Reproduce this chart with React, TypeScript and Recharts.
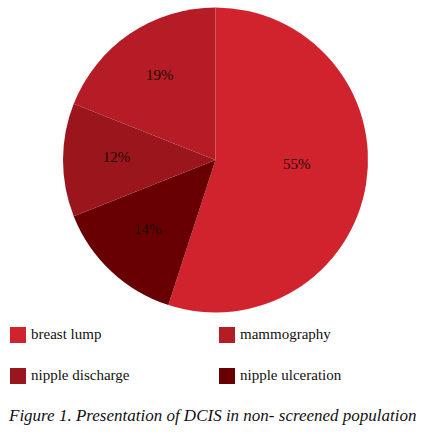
import React from "react";
import { PieChart, Pie, Cell, Legend } from "recharts";

const categories = ["breast lump", "nipple ulceration", "nipple discharge", "mammography"];
const shares = [55, 14, 12, 19];
const colors = ["#d1232d", "#680003", "#9a161c", "#b51c25"];
// legend reads row by row, left to right
const legendOrder = ["breast lump", "mammography", "nipple discharge", "nipple ulceration"];
const caption = "Figure 1. Presentation of DCIS in non- screened population";

const data = categories.map((name, i) => ({ name, value: shares[i] }));

const FONT = "'Liberation Serif', 'DejaVu Serif', serif";
const RAD = Math.PI / 180;

const renderLabel = (props: any) => {
  const { cx, cy, midAngle, outerRadius, percent, value } = props;
  const big = percent > 0.5;
  const r = outerRadius * (big ? 0.54 : 0.65);
  const x = cx + r * Math.cos(-midAngle * RAD);
  const y = cy + r * Math.sin(-midAngle * RAD) - (big ? 9 : 3);
  return (
    <text
      x={x}
      y={y}
      fill="#1e0808"
      textAnchor="middle"
      dominantBaseline="central"
      fontFamily={FONT}
      fontSize={15}
    >
      {value}%
    </text>
  );
};

const renderLegend = () => (
  <div style={{ fontFamily: FONT, color: "#111" }}>
    <div style={{ display: "flex", flexWrap: "wrap", width: 423 }}>
      {legendOrder.map((name, i) => (
        <div
          key={name}
          style={{
            width: i % 2 === 0 ? 209 : 204,
            height: 41,
            display: "flex",
            alignItems: "center",
            paddingLeft: 10,
            boxSizing: "border-box",
          }}
        >
          <span
            style={{
              display: "inline-block",
              width: 16,
              height: 16,
              background: colors[categories.indexOf(name)],
              marginRight: 5,
            }}
          />
          <span style={{ fontSize: 15 }}>{name}</span>
        </div>
      ))}
    </div>
    <div style={{ fontStyle: "italic", fontSize: 17, paddingLeft: 9, marginTop: 10, whiteSpace: "nowrap" }}>
      {caption}
    </div>
  </div>
);

export default function App() {
  return (
    <div style={{ position: "absolute", left: 0, top: 0, width: 423, height: 434, background: "#fff" }}>
      <PieChart width={423} height={434} margin={{ top: 0, right: 0, bottom: 0, left: 0 }}>
        <Pie
          data={data}
          dataKey="value"
          nameKey="name"
          cx={215.5}
          cy={160}
          outerRadius={152.5}
          startAngle={90}
          endAngle={-270}
          stroke="none"
          label={renderLabel}
          labelLine={false}
          isAnimationActive={false}
        >
          {data.map((d, i) => (
            <Cell key={d.name} fill={colors[i]} />
          ))}
        </Pie>
        <Legend
          content={renderLegend}
          wrapperStyle={{ position: "absolute", left: 0, top: 314, width: 423 }}
        />
      </PieChart>
    </div>
  );
}
